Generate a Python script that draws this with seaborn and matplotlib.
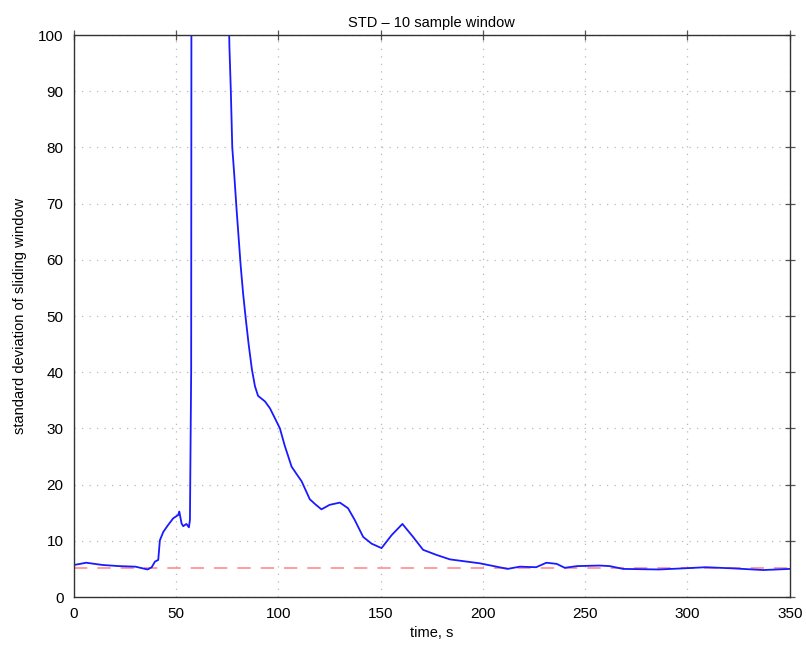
import matplotlib
matplotlib.use("Agg")
import matplotlib.pyplot as plt
import seaborn as sns
import pandas as pd

# time (s) and std of 10-sample sliding window
time_s = [0, 6, 14, 22, 30, 36, 38, 39.6, 41.2, 42, 43.7, 46, 48.5, 51, 51.5,
          52.6, 53.4, 55, 56.2, 56.7, 57.3, 57.8, 60, 65, 70, 74, 76, 76.7,
          77.4, 78.4, 79.5, 80.5, 81.5, 82.7, 84, 85.4, 87, 88.5, 90, 93.4,
          95.8, 98, 100.7, 103, 106.4, 109, 111.3, 115.3, 118, 121, 125, 130,
          134, 137.3, 141.4, 145.5, 150.4, 155.3, 160.6, 165.8, 170.7, 177.2,
          183.8, 190, 198.4, 208, 212, 218, 226, 231, 236, 240, 246, 257, 262,
          268.5, 286, 298, 309, 322, 337, 350]
std_val = [5.7, 6.1, 5.7, 5.5, 5.4, 4.9, 5.3, 6.3, 6.6, 10.1, 11.6, 12.8, 14.0,
           14.6, 15.2, 13.1, 12.6, 13.0, 12.4, 13.7, 40, 300, 420, 330, 230,
           140, 98, 90, 80, 75, 69, 64, 59, 54, 49.5, 45, 40.5, 37.5, 35.8,
           34.8, 33.6, 32, 30.0, 27, 23.2, 21.8, 20.6, 17.4, 16.5, 15.6, 16.4,
           16.8, 15.8, 13.7, 10.7, 9.5, 8.7, 11.0, 13.0, 10.7, 8.4, 7.5, 6.7,
           6.4, 6.0, 5.3, 5.0, 5.4, 5.3, 6.1, 5.9, 5.2, 5.5, 5.6, 5.5, 5.0,
           4.9, 5.1, 5.3, 5.1, 4.8, 5.0]
threshold = 5.2

df = pd.DataFrame({"time": time_s, "std": std_val})

sns.set_style("white")
plt.rcParams["font.family"] = ["Liberation Sans", "DejaVu Sans"]
plt.rcParams["text.color"] = "black"
plt.rcParams["axes.labelcolor"] = "black"
plt.rcParams["xtick.color"] = "black"
plt.rcParams["ytick.color"] = "black"

fig = plt.figure(figsize=(8.06, 6.45), dpi=100)
ax = fig.add_axes([0.0918, 0.0744, 0.888, 0.8713])

ax.axhline(threshold, color="#ff8c8c", lw=1.2, dashes=(8, 6))
sns.lineplot(data=df, x="time", y="std", ax=ax, color="#1a1aff", lw=1.3)

ax.set_xlim(0, 350)
ax.set_ylim(0, 100)
ax.set_xticks(range(0, 351, 50))
ax.set_yticks(range(0, 101, 10))
ax.grid(True, color="#b8b8b8", linestyle=(0, (1, 5)), lw=0.9)

for s in ax.spines.values():
    s.set_color("#333333")
    s.set_linewidth(1.0)
ax.tick_params(direction="inout", length=7, width=0.9, color="#555555",
               top=True, right=True, labelsize=11, pad=4)

ax.set_title("STD \u2013 10 sample window", fontsize=10.5, pad=6)
ax.set_xlabel("time, s", fontsize=10.5, labelpad=3)
ax.set_ylabel("standard deviation of sliding window", fontsize=10.5, labelpad=8)

fig.savefig("out.png", dpi=100)
